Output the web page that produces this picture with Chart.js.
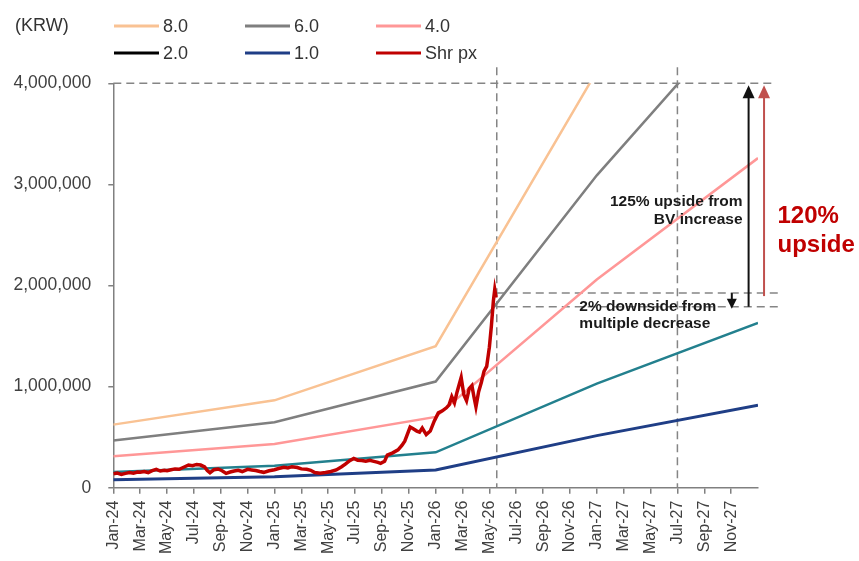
<!DOCTYPE html>
<html>
<head>
<meta charset="utf-8">
<script src="https://cdn.jsdelivr.net/npm/chart.js@4/dist/chart.umd.min.js"></script>
<style>
  html, body { margin: 0; padding: 0; background: #ffffff; }
  #wrap { width: 859px; height: 561px; position: relative; }
</style>
</head>
<body>
<div id="wrap"><canvas id="c" width="859" height="561"></canvas></div>
<script>
// ---- data -------------------------------------------------------------
// x values are months counted from Jan-24 (0 = Jan-24, 48 = Jan-28)
const monthTickLabels = ['Jan-24','Mar-24','May-24','Jul-24','Sep-24','Nov-24',
  'Jan-25','Mar-25','May-25','Jul-25','Sep-25','Nov-25',
  'Jan-26','Mar-26','May-26','Jul-26','Sep-26','Nov-26',
  'Jan-27','Mar-27','May-27','Jul-27','Sep-27','Nov-27'];

// book value per share (KRW) at each January
const bvMonths = [0, 12, 24, 36, 48];
const bvPerShare = [78000, 108000, 175000, 515000, 815000];

// P/B multiples for the band lines
const multiples = [8, 6, 4, 2, 1];
const multipleLabels = ['8.0', '6.0', '4.0', '2.0', '1.0'];
const bandColors = ['#F9C293', '#7F7F7F', '#FF9797', '#23808E', '#1F3E86'];
const bandLegendColors = ['#F9C293', '#7F7F7F', '#FF9797', '#000000', '#1F3E86'];
const bandWidths = [2.5, 2.5, 2.5, 2.5, 3];

// share price (KRW)
const priceMonths = [0.0,0.3,0.6,0.9,1.2,1.5,1.8,2.0,2.3,2.6,2.9,3.2,3.5,3.8,4.0,4.3,4.6,
  4.9,5.2,5.6,5.9,6.2,6.5,6.8,7.0,7.2,7.5,7.8,8.1,8.4,8.7,9.0,9.3,9.6,10.0,10.3,10.6,
  10.9,11.2,11.6,12.0,12.3,12.7,13.0,13.3,13.7,14.0,14.4,14.7,15.0,15.4,15.8,16.2,16.6,
  17.0,17.3,17.6,17.9,18.2,18.5,18.8,19.1,19.4,19.7,19.9,20.2,20.4,20.8,21.2,21.5,21.7,
  21.9,22.1,22.3,22.6,22.8,23.0,23.3,23.6,23.9,24.2,24.5,24.8,25.0,25.2,25.4,25.6,25.9,
  26.1,26.3,26.5,26.7,26.85,27.0,27.2,27.4,27.6,27.8,28.0,28.15,28.3,28.4,28.5];
const priceValues = [138000,145000,132000,142000,150000,144000,155000,152000,160000,150000,
  168000,182000,165000,172000,168000,178000,186000,182000,200000,225000,218000,230000,
  224000,205000,170000,148000,178000,185000,168000,142000,155000,165000,172000,160000,
  182000,176000,170000,160000,152000,168000,178000,190000,202000,196000,208000,200000,
  186000,182000,172000,150000,142000,150000,160000,176000,208000,235000,268000,290000,
  272000,268000,262000,270000,260000,250000,241000,262000,323000,345000,375000,420000,
  460000,530000,600000,585000,560000,550000,590000,525000,560000,660000,740000,760000,
  790000,820000,900000,840000,950000,1090000,920000,860000,980000,1010000,900000,800000,
  950000,1040000,1150000,1200000,1390000,1600000,1850000,1960000,1880000];

// guide levels
const nowMonth = 28.55;
const targetMonth = 42;
const targetPrice = 4000000;
const upperLevel = 1925000;
const lowerLevel = 1790000;

// ---- chart ------------------------------------------------------------
const FONT = '"Liberation Sans", Arial, sans-serif';

const datasets = multiples.map((m, i) => ({
  label: multipleLabels[i],
  data: bvMonths.map((mo, k) => ({ x: mo, y: bvPerShare[k] * m })),
  borderColor: bandColors[i],
  legendColor: bandLegendColors[i],
  borderWidth: bandWidths[i],
  pointRadius: 0,
  tension: 0,
  order: i + 1
}));
datasets.push({
  label: 'Shr px',
  data: priceMonths.map((mo, k) => ({ x: mo, y: priceValues[k] })),
  borderColor: '#C00000',
  legendColor: '#C00000',
  borderWidth: 3.5,
  pointRadius: 0,
  tension: 0,
  order: 0
});

function line(ctx, x0, y0, x1, y1) {
  ctx.beginPath(); ctx.moveTo(x0, y0); ctx.lineTo(x1, y1); ctx.stroke();
}

function arrow(ctx, x, yFrom, yTip, color, width, headW, headH) {
  const dir = yTip < yFrom ? 1 : -1;
  ctx.save();
  ctx.strokeStyle = color; ctx.fillStyle = color; ctx.lineWidth = width; ctx.setLineDash([]);
  line(ctx, x, yFrom, x, yTip + dir * headH * 0.8);
  ctx.beginPath();
  ctx.moveTo(x, yTip);
  ctx.lineTo(x - headW / 2, yTip + dir * headH);
  ctx.lineTo(x + headW / 2, yTip + dir * headH);
  ctx.closePath();
  ctx.fill();
  ctx.restore();
}

// two-row legend plus the unit label
const legendRows = {
  id: 'legendRows',
  afterDraw(chart) {
    const ctx = chart.ctx;
    const cols = [114, 245, 376];
    const rows = [26, 53];
    ctx.save();
    ctx.font = '18px ' + FONT;
    ctx.textBaseline = 'middle';
    ctx.fillStyle = '#333333';
    ctx.fillText('(KRW)', 15, rows[0]);
    chart.data.datasets.forEach((ds, i) => {
      const cx = cols[i % 3], cy = rows[Math.floor(i / 3)];
      ctx.strokeStyle = ds.legendColor;
      ctx.lineWidth = 3;
      line(ctx, cx, cy, cx + 45, cy);
      ctx.fillStyle = '#333333';
      ctx.fillText(ds.label, cx + 49, cy + 1);
    });
    ctx.restore();
  }
};

// dashed guides, arrows and notes
const guides = {
  id: 'guides',
  beforeDatasetsDraw(chart) {
    const { ctx, chartArea, scales: { x, y } } = chart;
    ctx.save();
    ctx.strokeStyle = '#858585';
    ctx.lineWidth = 1.5;
    ctx.setLineDash([8, 5]);
    const top = chartArea.top - 16;
    [nowMonth, targetMonth].forEach(m => {
      const px = x.getPixelForValue(m);
      line(ctx, px, top, px, chartArea.bottom);
    });
    const yT = y.getPixelForValue(targetPrice);
    line(ctx, chartArea.left, yT, chartArea.right + 14, yT);
    [upperLevel, lowerLevel].forEach(v => {
      const py = y.getPixelForValue(v);
      line(ctx, x.getPixelForValue(nowMonth), py, chartArea.right + 24, py);
    });
    ctx.restore();
  },
  afterDatasetsDraw(chart) {
    const { ctx, scales: { x, y } } = chart;
    const yT = y.getPixelForValue(targetPrice);
    const yU = y.getPixelForValue(upperLevel);
    const yL = y.getPixelForValue(lowerLevel);
    arrow(ctx, x.getPixelForValue(47.3), yL, yT + 2, '#111111', 2, 12, 13);
    arrow(ctx, x.getPixelForValue(48.45), yU + 3, yT + 2, '#C0504D', 2, 12, 13);
    arrow(ctx, x.getPixelForValue(46.05), yU, yL + 2, '#111111', 2, 10, 10);

    ctx.save();
    ctx.textBaseline = 'middle';
    ctx.fillStyle = '#1A1A1A';
    ctx.font = 'bold 15.5px ' + FONT;
    ctx.textAlign = 'right';
    const rx = x.getPixelForValue(47.3) - 6;
    ctx.fillText('125% upside from', rx, y.getPixelForValue(2830000));
    ctx.fillText('BV increase', rx, y.getPixelForValue(2652000));
    ctx.textAlign = 'left';
    const lx = x.getPixelForValue(34.7);
    ctx.fillText('2% downside from', lx, y.getPixelForValue(1790000));
    ctx.fillText('multiple decrease', lx, y.getPixelForValue(1626000));
    ctx.fillStyle = '#C00000';
    ctx.font = 'bold 24px ' + FONT;
    const ux = x.getPixelForValue(49.45);
    ctx.fillText('120%', ux, y.getPixelForValue(2680000));
    ctx.fillText('upside', ux, y.getPixelForValue(2400000));
    ctx.restore();
  }
};

new Chart(document.getElementById('c'), {
  type: 'line',
  data: { datasets },
  plugins: [guides, legendRows],
  options: {
    responsive: false,
    animation: false,
    events: [],
    layout: { padding: { top: 83.3, right: 101, bottom: 0, left: 0 } },
    plugins: { legend: { display: false }, tooltip: { enabled: false } },
    scales: {
      x: {
        type: 'linear', min: 0, max: 48, offset: false,
        afterBuildTicks: s => { s.ticks = s.ticks.filter(t => t.value < 48); },
        afterFit: s => { s.height = 73.3; },
        ticks: {
          stepSize: 2, autoSkip: false, maxRotation: 90, minRotation: 90, padding: 7,
          color: '#404040', font: { size: 16, family: FONT },
          callback: v => monthTickLabels[Math.round(v / 2)]
        },
        grid: { display: true, drawOnChartArea: false, drawTicks: true, tickLength: 6, color: '#808080', lineWidth: 1.5 },
        border: { display: true, color: '#808080', width: 1.5 }
      },
      y: {
        min: 0, max: 4000000,
        afterFit: s => { s.width = 113.3; },
        ticks: {
          stepSize: 1000000, padding: 17, color: '#404040', font: { size: 17.5, family: FONT },
          callback: v => v.toLocaleString('en-US')
        },
        grid: { display: true, drawOnChartArea: false, drawTicks: true, tickLength: 5, color: '#808080', lineWidth: 1.5 },
        border: { display: true, color: '#808080', width: 1.5 }
      }
    }
  }
});
</script>
</body>
</html>
